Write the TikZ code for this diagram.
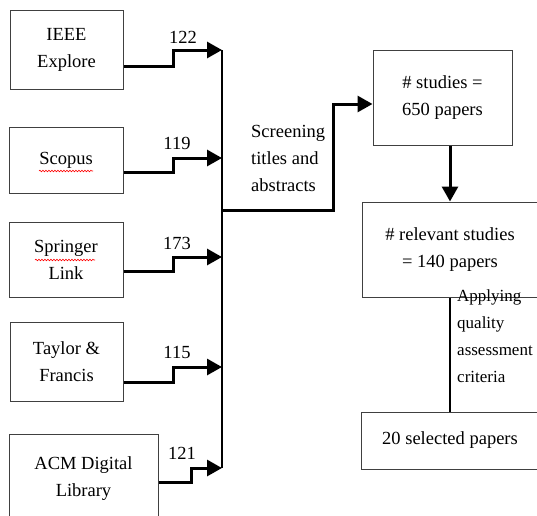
\documentclass[tikz,border=0pt]{standalone}
\usepackage{fontspec}
\setmainfont{Liberation Serif}
\usetikzlibrary{arrows.meta,positioning,calc,decorations.pathmorphing}

\begin{document}
\begin{tikzpicture}[x=1pt, y=-1pt, >={Triangle[length=15pt,width=16pt]},
 font=\fontsize{18.5}{27}\selectfont,
 src/.style={draw=black!75, line width=1pt, align=center, inner sep=0pt},
 flow/.style={->, line width=3pt},
 cnt/.style={inner sep=0pt},
 spell/.style={red, line width=0.6pt, decorate, decoration={snake, amplitude=0.8pt, segment length=3pt}}]
\clip (0,0) rectangle (537,515);
% sources
\node[src, minimum width=113pt, minimum height=79pt] (ieee) at (66.5,49.5) {IEEE\\Explore};
\node[src, minimum width=114pt, minimum height=66pt] (scopus) at (66,160) {Scopus};
\node[src, minimum width=114pt, minimum height=75pt] (springer) at (66,259.5) {Springer\\Link};
\node[src, minimum width=113pt, minimum height=79pt] (taylor) at (66.5,361.5) {Taylor \&\\Francis};
\node[src, minimum width=149pt, minimum height=90pt] (acm) at (83.5,479) {ACM Digital\\Library};
\draw[spell] (39,171) -- (93,171);
\draw[spell] (35,260) -- (95,260);
% bus
\coordinate (b1) at (222,50);
\coordinate (b2) at (222,158);
\coordinate (b3) at (222,257);
\coordinate (b4) at (222,367);
\coordinate (b5) at (222,468);
\coordinate (bm) at (222,210);
\draw[line width=2.5pt] (b1) -- (b5);
\draw[flow] ([yshift=-16.5pt]ieee.east) -| (173,50) -- (b1);
\draw[flow] ([yshift=-12pt]scopus.east) -| (173,158) -- (b2);
\draw[flow] ([yshift=-11.5pt]springer.east) -| (173,257) -- (b3);
\draw[flow] ([yshift=-20.5pt]taylor.east) -| (173,367) -- (b4);
\draw[flow] ([yshift=-3pt]acm.east) -| (191,468) -- (b5);
\node[cnt] (n1) at (183,37) {122};
\node[cnt] (n2) at (177,143) {119};
\node[cnt] (n3) at (177,243) {173};
\node[cnt] (n4) at (177,352) {115};
\node[cnt] (n5) at (182,453) {121};
% screening
\node[src, minimum width=139pt, minimum height=95pt] (studies) at (442.5,97.5) {\# studies =\\650 papers};
\node[cnt, anchor=west, align=left] (screen) at (251,158) {Screening\\titles and\\abstracts};
\draw[flow] (bm) -| (333,104) -- ([yshift=-6.5pt]studies.west);
\node[src, minimum width=176pt, minimum height=95pt] (relevant) at (450,249.5) {\# relevant studies\\= 140 papers};
\draw[flow] ([xshift=7.5pt]studies.south) -- (relevant.north);
% quality
\node[src, minimum width=178pt, minimum height=57pt] (selected) at (450,440.5) {20 selected papers};
\draw[line width=2.5pt] (relevant.south) -- (selected.north);
\node[cnt, anchor=west, align=left, font=\fontsize{17}{27}\selectfont] (quality) at (457,336) {Applying\\quality\\assessment\\criteria};
\end{tikzpicture}
\end{document}
